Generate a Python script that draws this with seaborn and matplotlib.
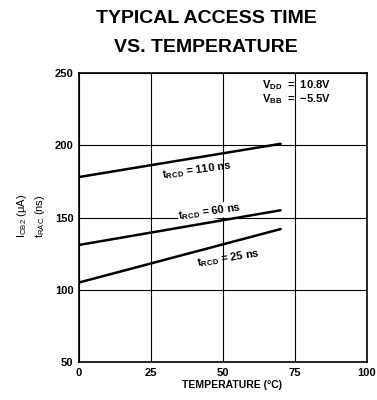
import pandas as pd
import matplotlib
matplotlib.use('Agg')
import matplotlib.pyplot as plt
import seaborn as sns

# data
temp = [0, 70]
t_110 = [178, 201]
t_60 = [131, 155]
t_25 = [105, 142]
curves = ['110', '60', '25']

df = pd.DataFrame({
    'temp': temp * 3,
    'trac': t_110 + t_60 + t_25,
    'trcd': [c for c in curves for _ in temp],
})

sns.set_theme(style="white")
plt.rcParams['font.family'] = ['Liberation Sans', 'DejaVu Sans']
plt.rcParams['mathtext.fontset'] = 'custom'
plt.rcParams['mathtext.rm'] = 'Liberation Sans:bold'
plt.rcParams['mathtext.it'] = 'Liberation Sans:bold'
plt.rcParams['mathtext.bf'] = 'Liberation Sans:bold'
for k in ['text.color', 'axes.labelcolor', 'xtick.color', 'ytick.color']:
    plt.rcParams[k] = 'black'

fig = plt.figure(figsize=(3.77, 4.0), dpi=100)
ax = fig.add_axes([0.2095, 0.095, 0.764, 0.7225])

sns.lineplot(data=df, x='temp', y='trac', units='trcd', estimator=None,
             color='black', lw=1.8, ax=ax, legend=False)

ax.set_xlim(0, 100)
ax.set_ylim(50, 250)
ax.set_xticks([0, 25, 50, 75, 100])
ax.set_yticks([50, 100, 150, 200, 250])
ax.grid(True, color='black', lw=0.8)
for s in ax.spines.values():
    s.set_color('black')
    s.set_linewidth(1.2)
ax.tick_params(length=0, labelsize=8, pad=4)
for lab in ax.get_xticklabels() + ax.get_yticklabels():
    lab.set_fontweight('bold')
ax.set_xlabel('')
ax.set_ylabel('')

# curve labels
box = dict(facecolor='white', edgecolor='none', pad=0.5)
ax.text(41, 183, r'$\mathregular{t_{RCD}}$ = 110 ns', fontsize=8, fontweight='bold',
        rotation=8, ha='center', va='center')
ax.text(45.5, 154, r'$\mathregular{t_{RCD}}$ = 60 ns', fontsize=8, fontweight='bold',
        rotation=8, ha='center', va='center', bbox=box, zorder=1.5)
ax.text(52, 122, r'$\mathregular{t_{RCD}}$ = 25 ns', fontsize=8, fontweight='bold',
        rotation=9, ha='center', va='center')

ax.text(63.5, 241.5, r'$\mathregular{V_{DD}}$  =  10.8V', fontsize=8, fontweight='bold',
        ha='left', va='center')
ax.text(63.5, 232, r'$\mathregular{V_{BB}}$  =  $-$5.5V', fontsize=8, fontweight='bold',
        ha='left', va='center')

fig.text(0.547, 0.953, 'TYPICAL ACCESS TIME', ha='center', va='center',
         fontsize=14, fontweight='bold')
fig.text(0.547, 0.88, 'VS. TEMPERATURE', ha='center', va='center',
         fontsize=14, fontweight='bold')
fig.text(0.616, 0.038, 'TEMPERATURE (°C)', ha='center', va='center',
         fontsize=7.5, fontweight='bold')
fig.text(0.058, 0.46, r'$\mathregular{I_{CB2}}$ ($\mathregular{\mu}$A)', rotation=90,
         ha='center', va='center', fontsize=8)
fig.text(0.107, 0.46, r'$\mathregular{t_{RAC}}$ (ns)', rotation=90,
         ha='center', va='center', fontsize=8)

fig.savefig('out.png', dpi=100)
